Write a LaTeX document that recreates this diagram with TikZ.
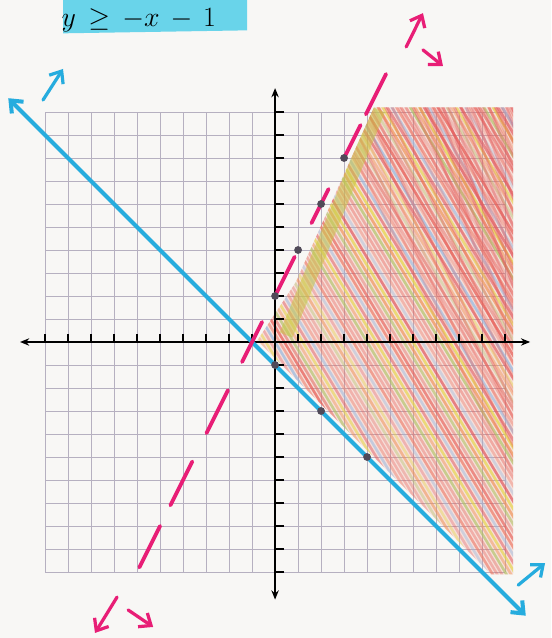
\documentclass[tikz,border=0pt]{standalone}
\usepackage{amsmath}
\usetikzlibrary{arrows.meta}

\definecolor{paper}{RGB}{248,247,245}
\definecolor{gridline}{RGB}{182,176,192}
\definecolor{linepink}{RGB}{232,30,118}
\definecolor{lineblue}{RGB}{38,172,222}
\definecolor{marker}{RGB}{105,212,234}
\definecolor{dotgray}{RGB}{80,74,88}
\definecolor{band}{RGB}{200,196,70}
\definecolor{hc0}{RGB}{232,96,88}
\definecolor{hc1}{RGB}{240,150,90}
\definecolor{hc2}{RGB}{150,185,225}
\definecolor{hc3}{RGB}{226,110,100}
\definecolor{hc4}{RGB}{230,215,70}
\definecolor{hc5}{RGB}{238,128,110}
\definecolor{hc6}{RGB}{175,195,100}
\definecolor{hc7}{RGB}{225,90,95}

\begin{document}
\begin{tikzpicture}[x=0.5cm, y=0.5cm,
    barb/.style={-{Straight Barb[length=2.2mm,width=3.6mm]}, line width=2pt, line cap=round},
    axisline/.style={line width=1.1pt, {Stealth[length=2mm,width=1.6mm]}-{Stealth[length=2mm,width=1.6mm]}},
    hatch/.style={line width=1.6pt, line cap=round}]
    \pgfmathsetseed{7}
    \useasboundingbox (-11.96,-12.87) rectangle (12,14.87);
    \clip (-11.96,-12.87) rectangle (12,14.87);
    \fill[paper] (-11.96,-12.87) rectangle (12,14.87);
    % title
    \fill[marker] (-9.22,13.42) -- (-1.22,13.55) -- (-1.22,15) -- (-9.22,15) -- cycle;
    \node[anchor=base west, inner sep=0pt, font=\fontsize{17}{20}\selectfont] (title) at (-9.3,13.72) {$y \,\geq\, -x \,-\, 1$};
    % grid
    \draw[gridline, line width=0.5pt, step=0.5cm] (-10,-10) grid (10,10);
    % shaded region
    \begin{scope}
        \clip (-0.77,0.07) -- (0.9,2.6) -- (4.3,10.2) -- (10.35,10.2) -- (10.35,-10.1) -- (9.4,-10.1) -- cycle;
        \fill[hc5, opacity=0.2] (-2,-11) rectangle (11,11);
        \foreach \s [count=\i] in {-7.6,-7.4,...,10.2} {
            \pgfmathtruncatemacro\k{mod(\i*3,8)}
            \pgfmathsetmacro\o{0.3+0.45*rnd}
            \draw[hatch, hc\k, opacity=\o] (\s,11) -- ++(13.8,-23);
        }
        \foreach \s in {2,2.3,...,10.5} {
            \pgfmathsetmacro\o{0.2+0.35*rnd}
            \draw[hatch, hc0, opacity=\o] (\s,11) -- ++(11.5,-23);
        }
        \foreach \s in {6,6.25,...,11} {
            \pgfmathsetmacro\o{0.2+0.35*rnd}
            \draw[hatch, hc7, opacity=\o] (\s,11) -- ++(9,-23);
        }
        \draw[band, line width=0.3cm, opacity=0.55] (0.48,0.3) -- (4.5,10.1);
    \end{scope}
    % axes
    \draw[axisline] (-11.09,0) -- (11.09,0);
    \draw[axisline] (0,-11.2) -- (0,11.04);
    \foreach \t in {-10,...,-1,1,2,...,10} {
        \draw[line width=1.1pt] (\t,0) -- (\t,0.35);
        \draw[line width=1.1pt] (0,\t) -- (0.4,\t);
    }
    % y >= -x - 1
    \draw[lineblue, line width=2.5pt, {Straight Barb[length=2.2mm,width=3.6mm]}-{Straight Barb[length=2.2mm,width=3.6mm]}] (-11.6,10.6) -- (10.9,-11.9);
    \draw[barb, lineblue] (-10.09,10.52) -- (-9.22,11.87);
    \draw[barb, lineblue] (10.57,-10.57) -- (11.74,-9.61);
    % y < 2x + 2
    \foreach \a/\b in {11.65/9.9, 9.43/8.0, 6.65/5.17, 3.7/2.0, 0.87/-0.87, -2.1/-3.96, -5.2/-7.1, -8.0/-9.8}
        \draw[linepink, line width=2.4pt, line cap=round] ({(\a-2)/2},\a) -- ({(\b-2)/2},\b);
    \draw[barb, linepink] (5.70,12.83) -- (6.43,14.30);
    \draw[barb, linepink] (6.43,12.70) -- (7.30,12.0);
    \draw[barb, linepink] (-6.87,-11.09) -- (-7.83,-12.65);
    \draw[barb, linepink] (-6.39,-11.65) -- (-5.30,-12.39);
    % points
    \foreach \p in {(0,2),(1,4),(2,6),(3,8),(0,-1),(2,-3),(4,-5)}
        \fill[dotgray] \p circle (0.17);
\end{tikzpicture}
\end{document}
